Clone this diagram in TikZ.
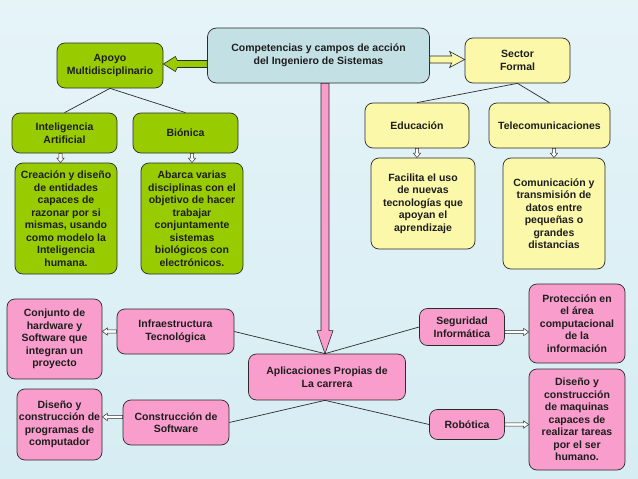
\documentclass[tikz,border=0pt]{standalone}
\usepackage{fontspec}
\setmainfont{Liberation Sans}
\usetikzlibrary{arrows.meta,calc}
\definecolor{gfill}{HTML}{99CC00}
\definecolor{yfill}{HTML}{FBF8A9}
\definecolor{pfill}{HTML}{F99DCC}
\definecolor{mfill}{HTML}{C3E0E5}
\definecolor{edge}{HTML}{2B2B2B}
\definecolor{txt}{HTML}{1E1E1E}
\definecolor{bgtop}{HTML}{E6F4F8}
\definecolor{bgmid}{HTML}{C0E3EC}
\definecolor{bgbot}{HTML}{D6EDF3}
% small hollow double arrows
\newcommand\vimp[2]{%
  \draw[simp] let \p1=(#1), \p2=(#2) in
    (\x1-1.6,\y1) -- (\x1-1.6,\y2+4.5) -- (\x1-3.6,\y2+4.5) -- (\x1,\y2) -- (\x1+3.6,\y2+4.5)
    -- (\x1+1.6,\y2+4.5) -- (\x1+1.6,\y1) -- cycle;}
\newcommand\himp[2]{%
  \draw[simp] let \p1=(#1), \p2=(#2), \n1={sign(\x2-\x1)} in
    (\x1,\y1+1.6) -- (\x2-\n1*5,\y1+1.6) -- (\x2-\n1*5,\y1+3.6) -- (\x2,\y1) -- (\x2-\n1*5,\y1-3.6)
    -- (\x2-\n1*5,\y1-1.6) -- (\x1,\y1-1.6) -- cycle;}
\begin{document}
\begin{tikzpicture}[x=1pt,y=-1pt,
  box/.style={draw=edge, line width=0.7pt, rounded corners=8pt, inner sep=0pt, align=center,
    font=\fontsize{10.5}{12.5}\selectfont\bfseries, text=txt},
  gbox/.style={box, fill=gfill},
  ybox/.style={box, fill=yfill},
  pbox/.style={box, fill=pfill},
  mbox/.style={box, fill=mfill, rounded corners=9pt},
  link/.style={draw=edge, line width=0.7pt},
  simp/.style={draw=edge, fill=white, line width=0.5pt, line join=miter},
  blk/.style={draw=edge, line width=0.6pt, line join=miter}]
\useasboundingbox (0,0) rectangle (638,479);
\shade[top color=bgtop, middle color=bgmid, bottom color=bgbot] (0,0) rectangle (638,479);

% nodes
\node[mbox, minimum width=222pt, minimum height=55pt] (main) at (318.5,55.5) {Competencias y campos de acción\\del Ingeniero de Sistemas};
\node[gbox, minimum width=106pt, minimum height=45pt] (apoyo) at (110,65.5) {Apoyo\\Multidisciplinario};
\node[ybox, minimum width=105pt, minimum height=45pt] (sector) at (517.5,60.5) {Sector\\Formal};
\node[gbox, minimum width=105pt, minimum height=40pt] (ia) at (64.5,133) {Inteligencia\\Artificial};
\node[gbox, minimum width=105pt, minimum height=40pt] (bionica) at (185.5,133) {Biónica};
\node[gbox, minimum width=102pt, minimum height=111pt] (creacion) at (66,218.5) {Creación y diseño\\de entidades\\capaces de\\razonar por si\\mismas, usando\\como modelo la\\Inteligencia\\humana.};
\node[gbox, minimum width=102pt, minimum height=111pt] (abarca) at (192,218.5) {Abarca varias\\disciplinas con el\\objetivo de hacer\\trabajar\\conjuntamente\\sistemas\\biológicos con\\electrónicos.};
\node[ybox, minimum width=104pt, minimum height=45pt] (educ) at (417,125.5) {Educación};
\node[ybox, minimum width=121pt, minimum height=45pt] (tele) at (549.5,125.5) {Telecomunicaciones};
\node[ybox, minimum width=104pt, minimum height=91pt] (facilita) at (423,203.5) {Facilita el uso\\de nuevas\\tecnologías que\\apoyan el\\aprendizaje};
\node[ybox, minimum width=102pt, minimum height=111pt] (comun) at (554,213.5) {Comunicación y\\transmisión de\\datos entre\\pequeñas o\\grandes\\distancias};
\node[pbox, minimum width=157pt, minimum height=46pt] (apl) at (327,377) {Aplicaciones Propias de\\La carrera};
\node[pbox, minimum width=117pt, minimum height=45pt] (infra) at (175.5,331.5) {Infraestructura\\Tecnológica};
\node[pbox, minimum width=95pt, minimum height=80pt] (conj) at (54.5,339) {Conjunto de\\hardware y\\Software que\\integran un\\proyecto};
\node[pbox, minimum width=106pt, minimum height=45pt] (constr) at (176,422.5) {Construcción de\\Software};
\node[pbox, minimum width=85pt, minimum height=71pt] (dispro) at (59.5,424.5) {Diseño y\\construcción de\\programas de\\computador};
\node[pbox, minimum width=85pt, minimum height=37pt] (seg) at (462,327) {Seguridad\\Informática};
\node[pbox, minimum width=96pt, minimum height=79pt] (prot) at (577,323.5) {Protección en\\el área\\computacional\\de la\\información};
\node[pbox, minimum width=75pt, minimum height=30pt] (robo) at (467,424.5) {Robótica};
\node[pbox, minimum width=96pt, minimum height=101pt] (dismaq) at (577,419.5) {Diseño y\\construcción\\de maquinas\\capaces de\\realizar tareas\\por el ser\\humano.};

% block arrows
\coordinate (gtip) at ($(apoyo.east)+(0,-1.5)$);
\draw[blk, fill=gfill] let \p1=(gtip), \p2=(main.west) in
  (\x2,\y1+3.5) -- (\x1+14,\y1+3.5) -- (\x1+12,\y1+7.5) -- (\p1) -- (\x1+12,\y1-7.5)
  -- (\x1+14,\y1-3.5) -- (\x2,\y1-3.5) -- cycle;
\coordinate (ytip) at ($(sector.west)+(0,-1)$);
\draw[blk, fill=yfill] let \p1=(ytip), \p2=(main.east) in
  (\x2,\y1+3.5) -- (\x1-13,\y1+3.5) -- (\x1-15,\y1+8) -- (\p1) -- (\x1-15,\y1-8)
  -- (\x1-13,\y1-3.5) -- (\x2,\y1-3.5) -- cycle;
\coordinate (atop) at ($(apl.north)+(-2,0)$);
\coordinate (abot) at ($(apl.south)+(-2,0)$);
\draw[blk, fill=pfill] let \p1=(atop), \p2=(main.south) in
  (\x1-4,\y2) -- (\x1-4,\y1+23) -- (\x1-8,\y1+23) -- (\p1) -- (\x1+8,\y1+23)
  -- (\x1+4,\y1+23) -- (\x1+4,\y2) -- cycle;

% links
\draw[link] (apoyo.south) -- (ia.north);
\draw[link] (apoyo.south) -- (bionica.north);
\draw[link] (sector.south) -- (educ.north);
\draw[link] (sector.south) -- (tele.north);
\draw[link] (atop) -- (infra.east);
\draw[link] (atop) -- (seg.west);
\draw[link] (abot) -- (constr.east);
\draw[link] (abot) -- (robo.west);

% small arrows
\coordinate (ia1) at ($(ia.south)+(-4,0)$);
\coordinate (ia2) at (ia1 |- creacion.north);
\vimp{ia1}{ia2}
\coordinate (bi1) at (bionica.south -| abarca.north);
\vimp{bi1}{abarca.north}
\coordinate (ed2) at (educ.south |- facilita.north);
\vimp{educ.south}{ed2}
\coordinate (te1) at (tele.south -| comun.north);
\vimp{te1}{comun.north}
\coordinate (in2) at (infra.west -| conj.east);
\himp{infra.west}{in2}
\coordinate (cw) at ($(constr.west)+(0,-5.5)$);
\coordinate (cw2) at (cw -| dispro.east);
\himp{cw}{cw2}
\coordinate (se) at ($(seg.east)+(0,5)$);
\coordinate (se2) at (se -| prot.west);
\himp{se}{se2}
\coordinate (ro2) at (robo.east -| dismaq.west);
\himp{robo.east}{ro2}
\end{tikzpicture}
\end{document}
